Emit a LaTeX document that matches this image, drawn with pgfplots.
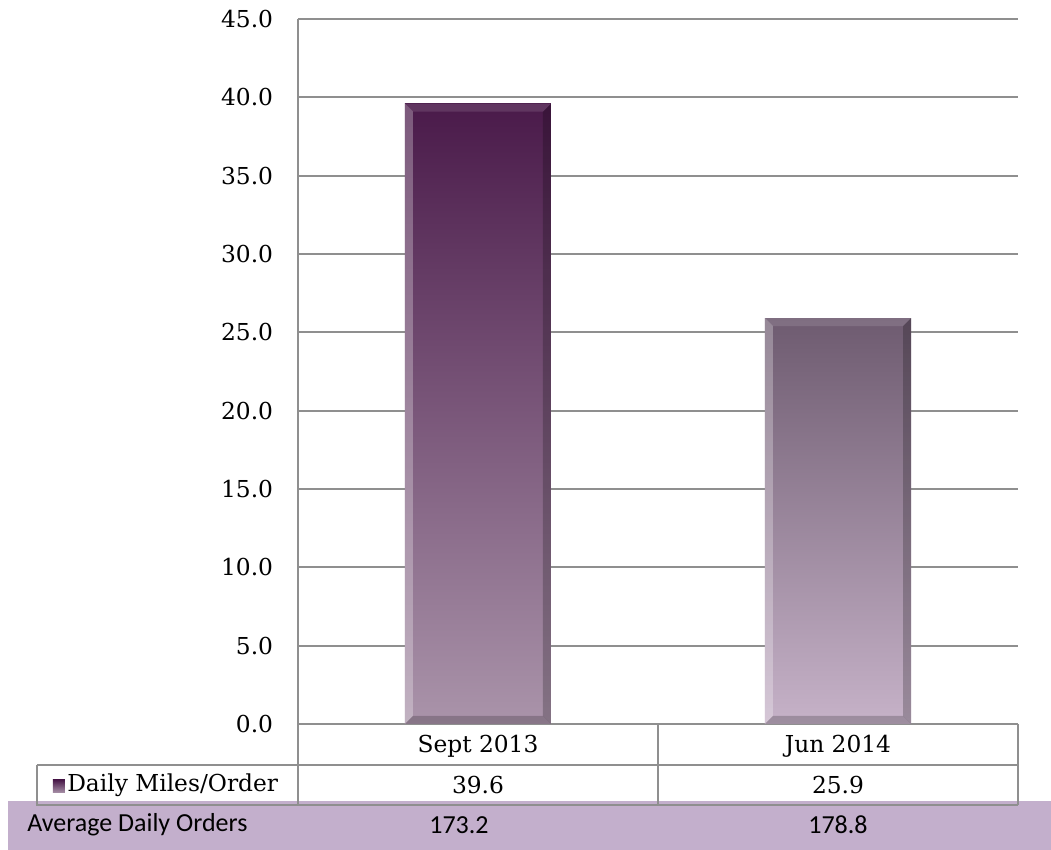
\documentclass[border=0pt]{standalone}
\usepackage{fontspec}
\setmainfont{DejaVu Serif}
\newfontfamily\calfont{Carlito}
\usepackage{pgfplots}
\pgfplotsset{compat=1.18}

\definecolor{gridgray}{HTML}{8F8F8F}
\definecolor{barAtop}{HTML}{4A1A4A}
\definecolor{barAbot}{HTML}{AA94AA}
\definecolor{barBtop}{HTML}{6E5B70}
\definecolor{barBbot}{HTML}{C6B2C8}
\definecolor{band}{HTML}{C3AFCC}

% bevel edges on the bars, drawn with basic-layer paths so that the
% bar's own options are not inherited
\def\bb#1{\pgfpointanchor{path picture bounding box}{#1}}
\newcommand\facet[6]{% colour, opacity, p1, p2, p3, p4
  \begin{pgfscope}
  \pgfsetfillcolor{#1}\pgfsetfillopacity{#2}%
  \pgfpathmoveto{#3}\pgfpathlineto{#4}\pgfpathlineto{#5}\pgfpathlineto{#6}%
  \pgfpathclose\pgfusepath{fill}%
  \end{pgfscope}}
\def\bw{6pt}
\tikzset{bevel/.style={path picture={%
  \facet{white}{0.28}{\bb{south west}}{\pgfpointadd{\bb{south west}}{\pgfpoint{\bw}{\bw}}}
     {\pgfpointadd{\bb{north west}}{\pgfpoint{\bw}{-\bw}}}{\bb{north west}}%
  \facet{black}{0.22}{\bb{south east}}{\pgfpointadd{\bb{south east}}{\pgfpoint{-\bw}{\bw}}}
     {\pgfpointadd{\bb{north east}}{\pgfpoint{-\bw}{-\bw}}}{\bb{north east}}%
  \facet{black}{0.2}{\bb{south west}}{\pgfpointadd{\bb{south west}}{\pgfpoint{\bw}{\bw}}}
     {\pgfpointadd{\bb{south east}}{\pgfpoint{-\bw}{\bw}}}{\bb{south east}}%
  \facet{white}{0.12}{\bb{north west}}{\pgfpointadd{\bb{north west}}{\pgfpoint{\bw}{-\bw}}}
     {\pgfpointadd{\bb{north east}}{\pgfpoint{-\bw}{-\bw}}}{\bb{north east}}%
}}}

\begin{document}
\begin{tikzpicture}
\useasboundingbox (-223.5pt,-94.5pt) rectangle (564.75pt,543pt);
\begin{axis}[
    at={(0pt,0pt)}, anchor=south west,
    scale only axis, width=540pt, height=528.75pt,
    xmin=-0.5, xmax=1.5, ymin=0, ymax=45,
    xtick=\empty,
    ytick={0,5,...,45},
    yticklabel={\pgfmathprintnumber[fixed,fixed zerofill,precision=1]{\tick}},
    /pgf/number format/assume math mode=true,
    yticklabel style={font=\fontsize{17.5}{20}\selectfont, inner sep=0pt, xshift=-18.5pt},
    major tick length=0pt,
    axis x line*=bottom, axis y line*=left,
    axis line style={-, draw=gridgray, line width=1.5pt},
    ymajorgrids, grid style={draw=gridgray, line width=1.5pt},
    clip=false,
]
\addplot[ybar, bar width=109.5pt, bar shift=0pt, draw=none, bevel,
    top color=barAtop, bottom color=barAbot] coordinates {(0,39.6)};
\addplot[ybar, bar width=109.5pt, bar shift=0pt, draw=none, bevel,
    top color=barBtop, bottom color=barBbot] coordinates {(1,25.9)};
\end{axis}

% data table below the axis
\fill[band] (-217.5pt,-57.75pt) rectangle (564.75pt,-94.5pt);
\begin{scope}[draw=gridgray, line width=1.5pt]
\draw (0pt,0pt) -- (0pt,-60.75pt);
\draw (270pt,0pt) -- (270pt,-60.75pt);
\draw (540pt,0pt) -- (540pt,-60.75pt);
\draw (-195.75pt,-30.75pt) -- (540pt,-30.75pt);
\draw (-195.75pt,-30.75pt) -- (-195.75pt,-60.75pt) -- (540pt,-60.75pt);
\end{scope}

\begin{scope}[font=\fontsize{17.5}{20}\selectfont]
\node at (135pt,-16.5pt) {Sept 2013};
\node at (405pt,-16.5pt) {Jun 2014};
\node at (135pt,-45.75pt) {39.6};
\node at (405pt,-45.75pt) {25.9};
\shade[top color=barAtop, bottom color=barAbot] (-183.75pt,-42pt) rectangle (-174.75pt,-51.75pt);
\node[anchor=west, inner sep=0pt] at (-173.25pt,-45.75pt) {Daily Miles/Order};
\end{scope}
\begin{scope}[font=\calfont\fontsize{19.5}{23}\selectfont]
\node[anchor=west, inner sep=0pt] at (-203.25pt,-75.75pt) {Average Daily Orders};
\node at (120.75pt,-75.75pt) {173.2};
\node at (405pt,-75.75pt) {178.8};
\end{scope}
\end{tikzpicture}
\end{document}
